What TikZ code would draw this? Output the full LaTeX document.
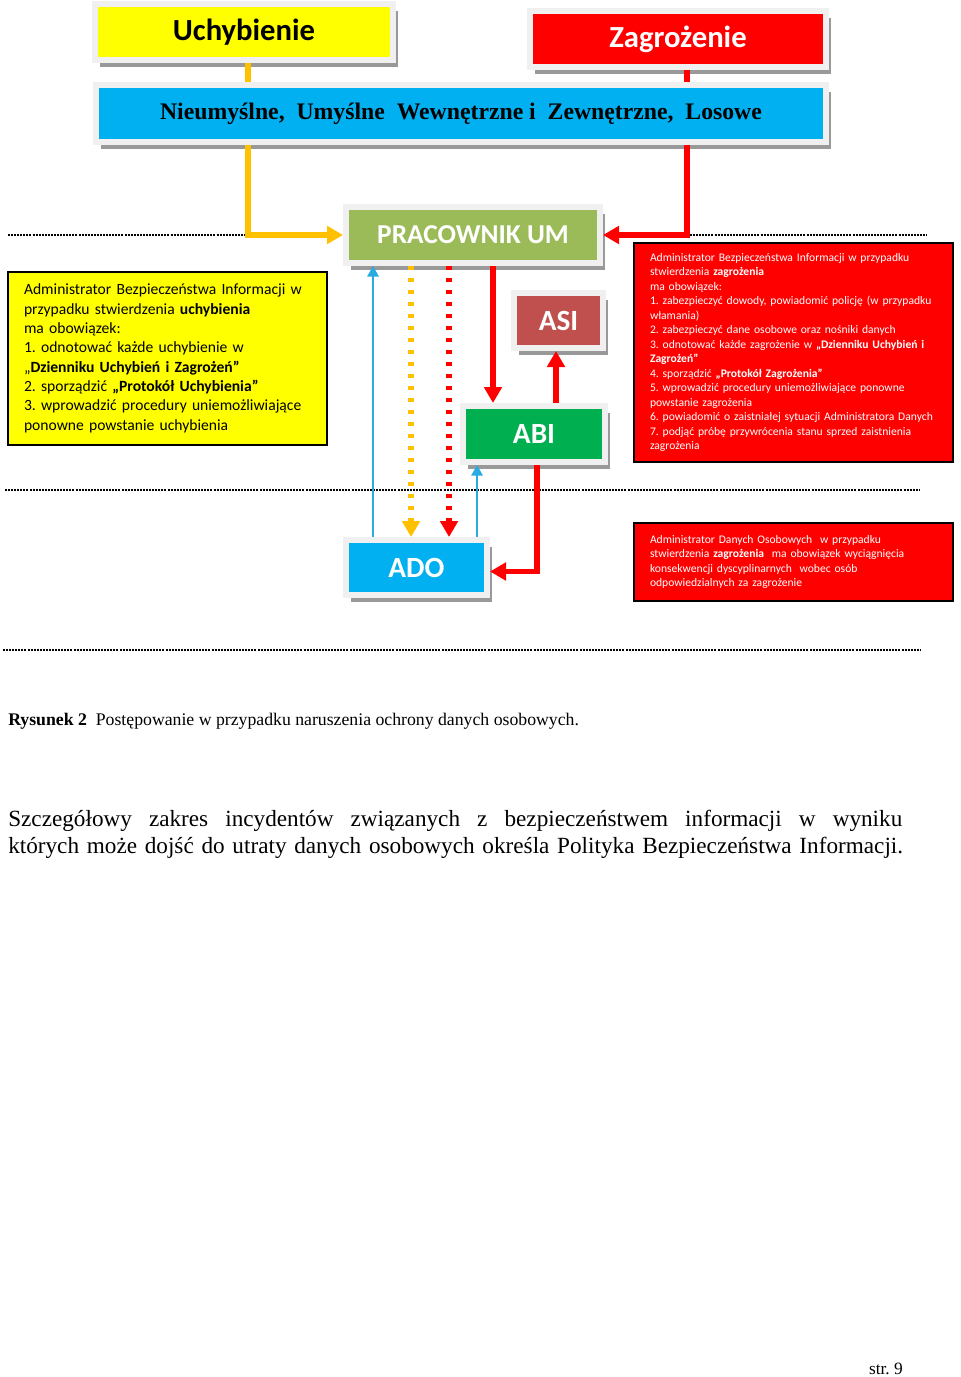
\documentclass[tikz,border=0pt]{standalone}
\usepackage{fontspec}
\setmainfont{Carlito}
\newfontfamily\timesfont{Liberation Serif}
\usepackage{xcolor}
\usetikzlibrary{arrows.meta, shadows}
\frenchspacing

\definecolor{uchyellow}{HTML}{FFFF00}
\definecolor{zagred}{HTML}{FF0000}
\definecolor{typblue}{HTML}{00B0F0}
\definecolor{pracgreen}{HTML}{9BBB59}
\definecolor{asired}{HTML}{C0504D}
\definecolor{abigreen}{HTML}{00B050}
\definecolor{linkorange}{HTML}{FFC000}
\definecolor{linkblue}{HTML}{29ABE2}

\begin{document}
\begin{tikzpicture}[
    x=0.75pt, y=-0.75pt,
    titlebox/.style={draw=gray!12, line width=4.5pt, inner sep=0pt, align=center, text=white,
        drop shadow={shadow xshift=3.75pt, shadow yshift=-5.25pt, fill=black!40, opacity=1}},
    infobox/.style={draw=black, line width=1.2pt, inner xsep=12pt, inner ysep=0pt, align=left,
        minimum width=239.25pt, text width=215.25pt},
    fatarrow/.style={line width=4.2pt, -{Triangle[length=12pt, width=13pt]}},
    dotarrow/.style={line width=4.5pt, dash pattern=on 3.3pt off 5.7pt, -{Triangle[length=12pt, width=13pt]}},
    thinarrow/.style={draw=linkblue, line width=1.5pt, -{Triangle[length=8pt, width=8.5pt]}},
    sepline/.style={line width=1.5pt, dash pattern=on 1.5pt off 0.8pt}
]
    \useasboundingbox[fill=white] (0,0) rectangle (960,1377);

    % separator lines
    \draw[sepline] (8,235) -- (245,235);
    \draw[sepline] (690,235) -- (927,235);
    \draw[sepline] (5,490) -- (920,490);
    \draw[sepline] (3,650) -- (920,650);

    % boxes
    \node[titlebox, fill=uchyellow, text=black, minimum width=223.5pt, minimum height=42pt,
        font=\bfseries\fontsize{23}{26}\selectfont] (uch) at (244,32) {Uchybienie};
    \node[titlebox, fill=zagred, minimum width=222pt, minimum height=42pt,
        font=\bfseries\fontsize{23}{26}\selectfont] (zag) at (678,39) {Zagrożenie};
    \node[titlebox, fill=typblue, text=black, minimum width=547.5pt, minimum height=42.75pt,
        font=\timesfont\bfseries\fontsize{17.8}{20}\selectfont] (typy) at (461,113.5)
        {Nieumyślne,\ \ Umyślne\ \ Wewnętrzne i\ \ Zewnętrzne,\ \ Losowe};
    \node[titlebox, fill=pracgreen, minimum width=190.5pt, minimum height=42pt,
        font=\bfseries\fontsize{20.5}{24}\selectfont] (prac) at (473,235) {PRACOWNIK UM};
    \node[titlebox, fill=asired, minimum width=66.75pt, minimum height=41.25pt,
        font=\bfseries\fontsize{22}{26}\selectfont] (asi) at (558.5,320.5) {ASI};
    \node[titlebox, fill=abigreen, minimum width=106.5pt, minimum height=42pt,
        font=\bfseries\fontsize{22}{26}\selectfont] (abi) at (534,434) {ABI};
    \node[titlebox, fill=typblue, minimum width=105.75pt, minimum height=41.25pt,
        font=\bfseries\fontsize{22}{26}\selectfont] (ado) at (416.5,567.5) {ADO};

    \node[infobox, fill=uchyellow, minimum height=129.75pt, font=\fontsize{11.7}{14.5}\selectfont]
        (uchinfo) at (167.5,358.5)
        {Administrator Bezpieczeństwa Informacji w\\
        przypadku stwierdzenia \textbf{uchybienia}\\
        ma obowiązek:\\
        1. odnotować każde uchybienie w\\
        „\textbf{Dzienniku Uchybień i Zagrożeń”}\\
        2. sporządzić \textbf{„Protokół Uchybienia”}\\
        3. wprowadzić procedury uniemożliwiające\\
        ponowne powstanie uchybienia};
    \node[infobox, fill=zagred, text=white, minimum height=164.25pt, font=\fontsize{8.7}{10.9}\selectfont]
        (zaginfo) at (793.5,352.5)
        {Administrator Bezpieczeństwa Informacji w przypadku\\
        stwierdzenia \textbf{zagrożenia}\\
        ma obowiązek:\\
        1. zabezpieczyć dowody, powiadomić policję (w przypadku\\
        włamania)\\
        2. zabezpieczyć dane osobowe oraz nośniki danych\\
        3. odnotować każde zagrożenie w \textbf{„Dzienniku Uchybień i}\\
        \textbf{Zagrożeń”}\\
        4. sporządzić \textbf{„Protokół Zagrożenia”}\\
        5. wprowadzić procedury uniemożliwiające ponowne\\
        powstanie zagrożenia\\
        6. powiadomić o zaistniałej sytuacji Administratora Danych\\
        7. podjąć próbę przywrócenia stanu sprzed zaistnienia\\
        zagrożenia};
    \node[infobox, fill=zagred, text=white, minimum height=58.5pt, font=\fontsize{8.7}{10.9}\selectfont]
        (adoinfo) at (793.5,562)
        {Administrator Danych Osobowych\ \ w przypadku\\
        stwierdzenia \textbf{zagrożenia}\ \ ma obowiązek wyciągnięcia\\
        konsekwencji dyscyplinarnych\ \ wobec osób\\
        odpowiedzialnych za zagrożenie};

    % connectors
    \draw[linkorange, line width=4.2pt] ([xshift=3pt]uch.south) -- ([xshift=3pt]uch.south |- typy.north);
    \draw[linkorange, fatarrow] ([xshift=3pt]uch.south |- typy.south) |- (prac.west);
    \draw[zagred, line width=4.2pt] ([xshift=6.75pt]zag.south) -- ([xshift=6.75pt]zag.south |- typy.north);
    \draw[zagred, fatarrow] ([xshift=6.75pt]zag.south |- typy.south) |- (prac.east);

    \draw[thinarrow] ([xshift=-32.6pt]ado.north) -- ([xshift=-32.6pt]ado.north |- prac.south);
    \draw[linkorange, dotarrow] ([xshift=-4.1pt]ado.north |- prac.south) -- ([xshift=-4.1pt]ado.north);
    \draw[zagred, dotarrow] ([xshift=24.4pt]ado.north |- prac.south) -- ([xshift=24.4pt]ado.north);
    \draw[thinarrow] ([xshift=45.4pt]ado.north) -- ([xshift=45.4pt]ado.north |- abi.south);
    \draw[zagred, fatarrow] ([xshift=15pt]prac.south) -- ([xshift=15pt]prac.south |- abi.north);
    \draw[zagred, fatarrow] ([xshift=16.5pt]abi.north) -- ([xshift=16.5pt]abi.north |- asi.south);
    \draw[zagred, fatarrow] ([xshift=2.25pt]abi.south) |- ([yshift=-3pt]ado.east);

    % caption and text
    \node[anchor=west, inner sep=0pt, font=\timesfont\fontsize{13.3}{16}\selectfont] (podpis) at (8,721)
        {\textbf{Rysunek 2}\ \ Postępowanie w przypadku naruszenia ochrony danych osobowych.};
    \node[anchor=north west, inner sep=0pt, align=left, text width=700pt,
        font=\timesfont\fontsize{17.4}{20.25}\selectfont] (tekst) at (8,810)
        {\hbox to 670.5pt{\spaceskip=0.25em plus 1fil\relax Szczegółowy zakres incydentów związanych z bezpieczeństwem informacji w wyniku}\\
        których może dojść do utraty danych osobowych określa Polityka Bezpieczeństwa Informacji.};
    \node[anchor=east, inner sep=0pt, font=\timesfont\fontsize{13}{16}\selectfont] (strona) at (903,1369) {str. 9};
\end{tikzpicture}
\end{document}
